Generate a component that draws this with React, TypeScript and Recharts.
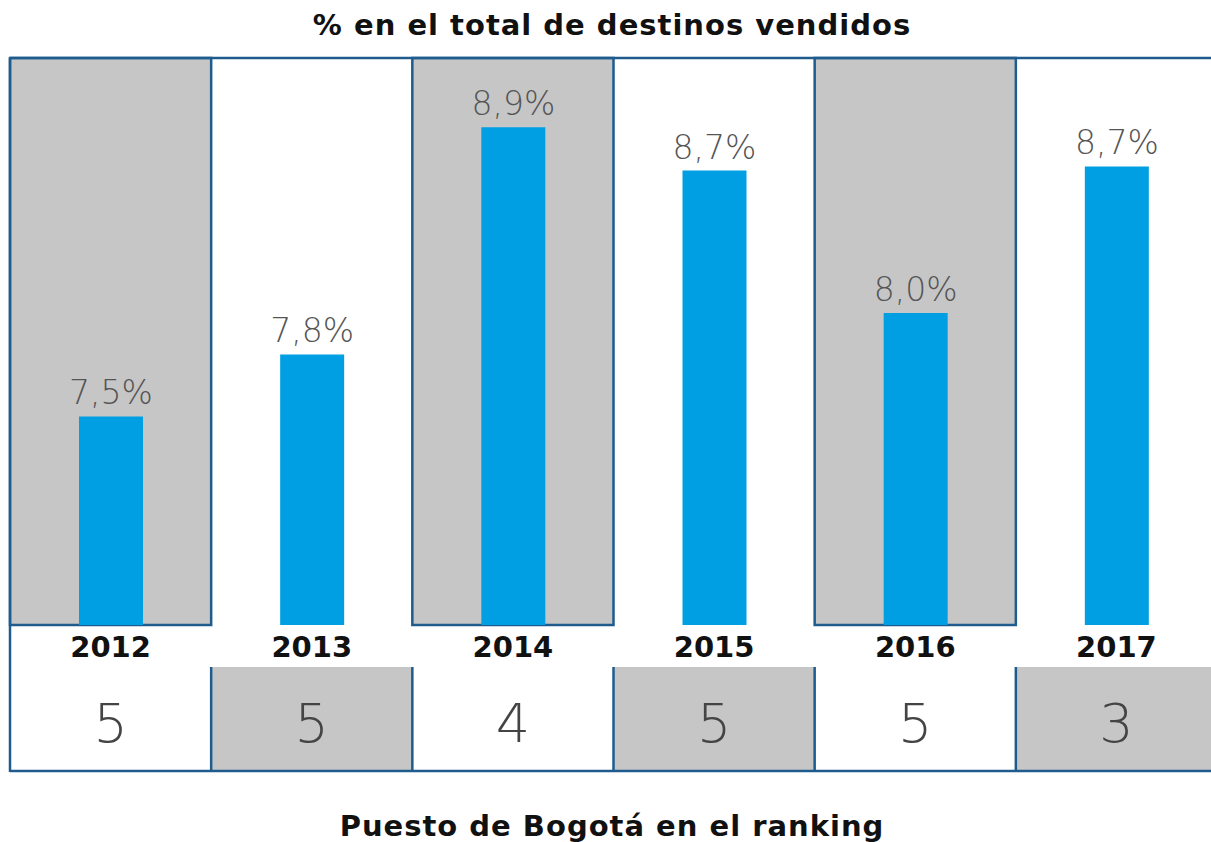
import React from 'react';
import { BarChart, Bar, XAxis, YAxis, ReferenceArea, ReferenceLine, LabelList } from 'recharts';

const years = ['2012', '2013', '2014', '2015', '2016', '2017'];
const shares = [7.5, 7.8, 8.9, 8.69, 8.0, 8.71];
const ranks = [5, 5, 4, 5, 5, 3];
const shadedYears = ['2012', '2014', '2016'];
const shadedRankYears = ['2013', '2015', '2017'];

const chartData = years.map((year, i) => ({ year, share: shares[i], rank: ranks[i] }));

const BLUE = '#009fe3';
const GRAY = '#c6c6c6';
const BORDER = '#1f5b8c';
const FONT = '"DejaVu Sans", sans-serif';

const CHART_W = 1220;
const CHART_H = 842;
const LEFT = 10;
const RIGHT = 3;
const TOP = 58;
const BAND = (CHART_W - LEFT - RIGHT) / years.length;
const RANK_TOP = 667;
const RANK_BOTTOM = 771;

const fmt = (v: number) => v.toFixed(1).replace('.', ',') + '%';

// year label + ranking cell below each column
const YearTick = (props: any) => {
  const { x, payload, index } = props;
  const year = payload.value;
  const left = x - BAND / 2;
  const shaded = shadedRankYears.includes(year);
  return (
    <g>
      <rect x={left} y={RANK_TOP} width={BAND} height={RANK_BOTTOM - RANK_TOP} fill={shaded ? GRAY : '#fff'} />
      <line x1={left} x2={left} y1={index === 0 ? TOP : RANK_TOP} y2={RANK_BOTTOM + 1} stroke={BORDER} strokeWidth={2.5} />
      <line x1={left} x2={left + BAND} y1={RANK_BOTTOM} y2={RANK_BOTTOM} stroke={BORDER} strokeWidth={2.5} />
      <text x={x} y={657} textAnchor="middle" fontFamily={FONT} fontWeight={700} fontSize={29} fill="#111">
        {year}
      </text>
      <text x={x} y={742} textAnchor="middle" fontFamily={FONT} fontWeight={200} fontSize={54} fill="#444">
        {ranks[index]}
      </text>
    </g>
  );
};

const titleStyle: React.CSSProperties = {
  position: 'absolute',
  left: 0,
  width: 1224,
  textAlign: 'center',
  fontFamily: FONT,
  fontWeight: 700,
  fontSize: 29,
  color: '#111',
  letterSpacing: 1,
};

export default function App() {
  return (
    <div style={{ position: 'absolute', left: 0, top: 0, width: 1211, height: 842, overflow: 'hidden', background: '#fff' }}>
      <div style={{ ...titleStyle, top: 8 }}>% en el total de destinos vendidos</div>
      <BarChart
        width={CHART_W}
        height={CHART_H}
        data={chartData}
        margin={{ top: TOP, right: RIGHT, left: LEFT, bottom: 67 }}
        barSize={64}
      >
        {shadedYears.map((y) => (
          <ReferenceArea key={y} x1={y} x2={y} fill={GRAY} fillOpacity={1} stroke={BORDER} strokeWidth={2.5} ifOverflow="visible" />
        ))}
        <XAxis dataKey="year" axisLine={false} tickLine={false} height={150} tick={<YearTick />} interval={0} />
        <YAxis hide domain={[6.49, 9.235]} />
        <ReferenceLine y={9.235} stroke={BORDER} strokeWidth={2.5} ifOverflow="visible" />
        <Bar dataKey="share" fill={BLUE} isAnimationActive={false}>
          <LabelList
            dataKey="share"
            position="top"
            offset={12}
            formatter={(v: any) => fmt(Number(v))}
            fill="#555"
            fontFamily={FONT}
            fontWeight={200}
            fontSize={33}
          />
        </Bar>
      </BarChart>
      <div style={{ ...titleStyle, top: 809 }}>Puesto de Bogotá en el ranking</div>
    </div>
  );
}
